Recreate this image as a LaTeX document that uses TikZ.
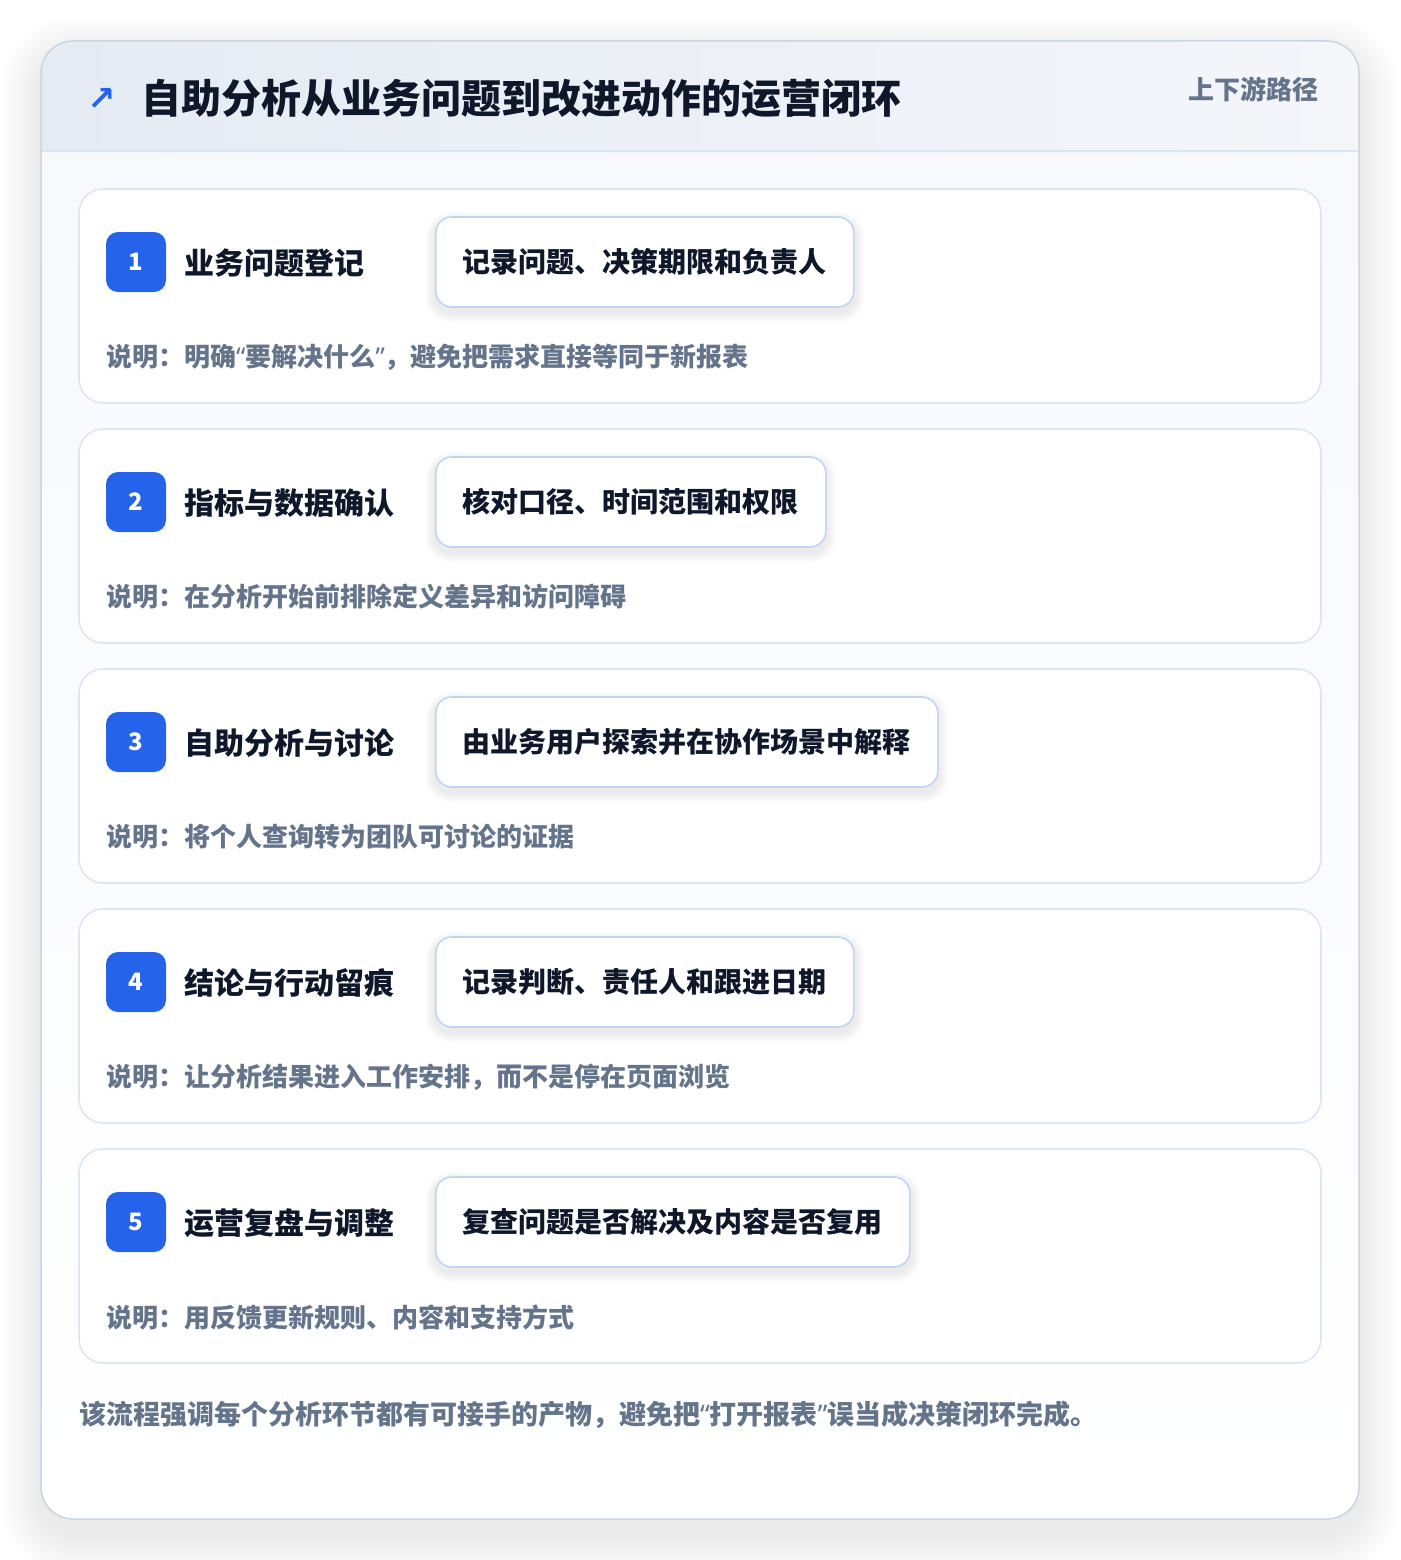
\documentclass[tikz,border=0pt]{standalone}
\usepackage{fontspec}
\setmainfont{Noto Sans CJK SC}
\newfontfamily\symfont{DejaVu Sans}
\newfontfamily\qfont{Noto Sans}
\newcommand{\lqq}{{\qfont “}}
\newcommand{\rqq}{{\qfont ”}}
\usetikzlibrary{calc}
\pgfdeclarelayer{bg}
\pgfdeclarelayer{shadowL}
\pgfsetlayers{bg,shadowL,main}
\definecolor{titlec}{HTML}{0F172A}
\definecolor{mutedc}{HTML}{64748B}
\definecolor{bluec}{HTML}{2563EB}
\definecolor{cardborder}{HTML}{DCE7F5}
\definecolor{boxborder}{HTML}{BFD5F3}
\definecolor{outerc}{HTML}{CBD5E1}
\definecolor{hdrL}{HTML}{E5EBF3}
\definecolor{hdrR}{HTML}{F4F6FA}
\definecolor{hdrline}{HTML}{D8E5F4}
\definecolor{bodytop}{HTML}{F7F9FC}
\definecolor{shadowc}{HTML}{1E293B}
\tikzset{
  stepcard/.style={draw=cardborder, line width=1.6pt, fill=white, rounded corners=24pt,
    minimum width=1242pt, minimum height=214pt, inner sep=0pt},
  badge/.style={fill=bluec, rounded corners=12pt, minimum size=60pt, inner sep=0pt,
    text=white, font=\bfseries\fontsize{24}{26}\selectfont},
  steptitle/.style={inner sep=0pt, text=titlec, font=\bfseries\fontsize{30}{36}\selectfont},
  detailbox/.style={draw=boxborder, line width=1.6pt, fill=white, rounded corners=16pt,
    minimum height=90pt, inner xsep=27pt, inner ysep=0pt, text=titlec,
    font=\bfseries\fontsize{28}{34}\selectfont},
  desctext/.style={inner sep=0pt, text=mutedc, font=\bfseries\fontsize{26}{30}\selectfont},
  shadowlayer/.style={fill=shadowc, opacity=#1},
}
\begin{document}
\begin{tikzpicture}[x=1pt,y=-1pt]
\useasboundingbox (0,0) rectangle (1400,1560);
\begin{pgfonlayer}{bg}
\fill[white] (0,0) rectangle (1400,1560);
% outer card soft shadow
\foreach \k in {2,4,...,40}{
  \pgfmathsetmacro\rr{32+\k}
  \fill[shadowlayer=0.0045, rounded corners=\rr pt] (41-\k,41-\k+16) rectangle (1359+\k,1519+\k+16);
}
\fill[white, rounded corners=32pt] (41,41) rectangle (1359,1519);
\begin{scope}
  \clip[rounded corners=32pt] (41,41) rectangle (1359,1519);
  \shade[top color=bodytop, bottom color=white] (41,151) rectangle (1359,1519);
  \shade[left color=hdrL, right color=hdrR] (41,41) rectangle (1359,151);
\end{scope}
\draw[hdrline, line width=1.5pt] (41,151) -- (1359,151);
\draw[outerc, line width=1.5pt, rounded corners=32pt] (41,41) rectangle (1359,1519);
\end{pgfonlayer}
% header
\node[inner sep=0pt, text=bluec, font=\symfont\bfseries\fontsize{34}{38}\selectfont] (icon) at (102,99) {↗};
\node[inner sep=0pt, anchor=west, text=titlec, font=\bfseries\fontsize{40}{48}\selectfont] (title) at (141,99) {自助分析从业务问题到改进动作的运营闭环};
\node[inner sep=0pt, anchor=east, text=mutedc, font=\bfseries\fontsize{26}{32}\selectfont] (path) at (1319,89) {上下游路径};
% steps
\foreach \i/\t/\d/\e in {
  1/业务问题登记/记录问题、决策期限和负责人/说明：明确\lqq 要解决什么\rqq ，避免把需求直接等同于新报表,
  2/指标与数据确认/核对口径、时间范围和权限/说明：在分析开始前排除定义差异和访问障碍,
  3/自助分析与讨论/由业务用户探索并在协作场景中解释/说明：将个人查询转为团队可讨论的证据,
  4/结论与行动留痕/记录判断、责任人和跟进日期/说明：让分析结果进入工作安排，而不是停在页面浏览,
  5/运营复盘与调整/复查问题是否解决及内容是否复用/说明：用反馈更新规则、内容和支持方式}{
  \pgfmathsetmacro\top{189+240*(\i-1)}
  \begin{pgfonlayer}{bg}
    \node[stepcard] (card\i) at (700,\top+107) {};
  \end{pgfonlayer}
  \node[badge] (badge\i) at (136,\top+73) {\i};
  \node[steptitle, anchor=west] (title\i) at (184,\top+74) {\t};
  \node[detailbox, anchor=west] (detail\i) at (435,\top+73) {\d};
  \begin{pgfonlayer}{shadowL}
    \foreach \k in {1,...,10}{
      \pgfmathsetmacro\rr{16+\k}
      \fill[shadowlayer=0.007, rounded corners=\rr pt]
        ($(detail\i.south west)+(-\k,\k+5)$) rectangle ($(detail\i.north east)+(\k,-\k+5)$);
    }
  \end{pgfonlayer}
  \node[desctext, anchor=west] (desc\i) at (106,\top+168) {\e};
}
% footer
\node[inner sep=0pt, anchor=west, text=mutedc, font=\bfseries\fontsize{27}{32}\selectfont] (footer) at (79,1415) {该流程强调每个分析环节都有可接手的产物，避免把\lqq 打开报表\rqq 误当成决策闭环完成。};
\end{tikzpicture}
\end{document}
